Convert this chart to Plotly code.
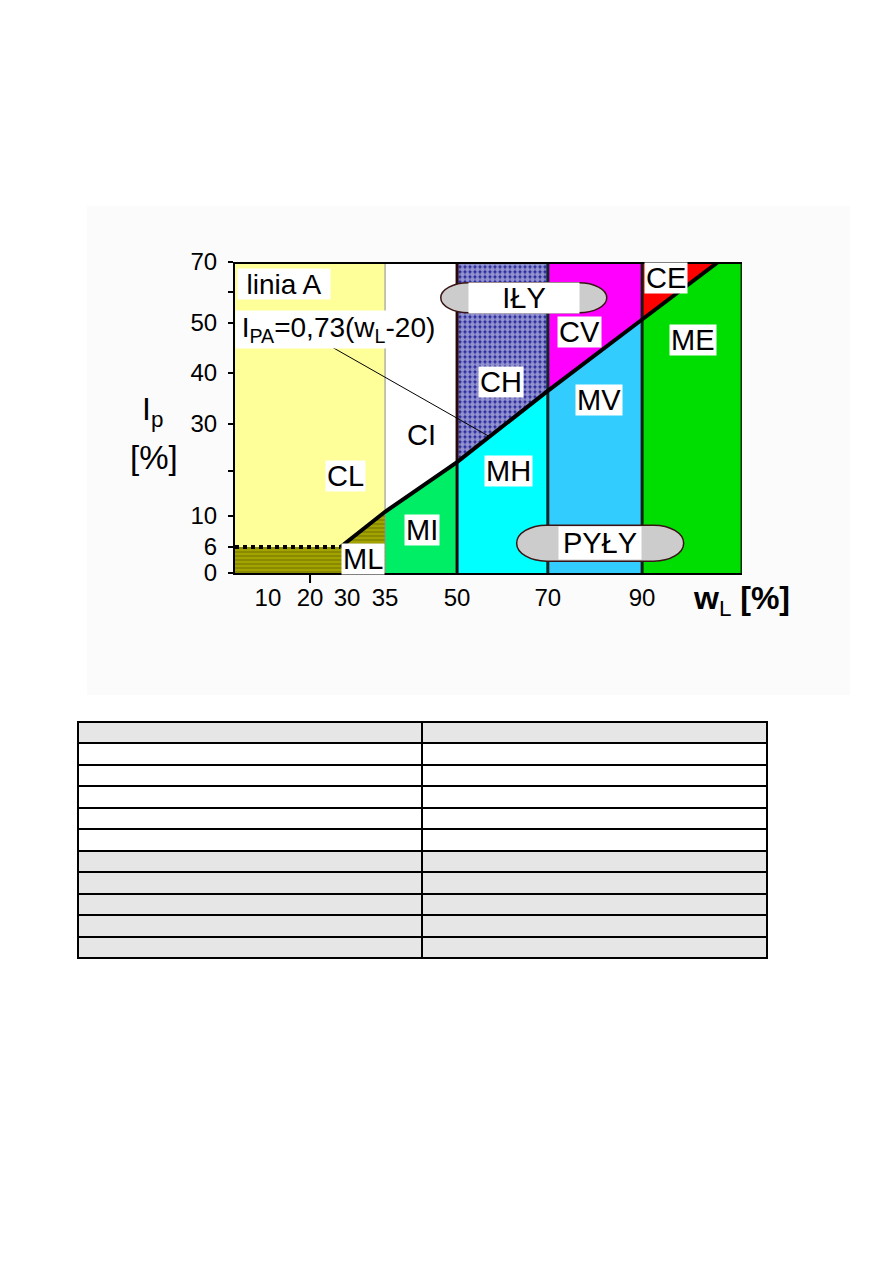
import numpy as np
import plotly.graph_objects as go

# ---------------- data ----------------
ZONE_BOUNDARIES_WL = [35, 50, 70, 90]      # liquid-limit class boundaries w_L [%]
A_LINE_SLOPE = 0.73                         # I_PA = 0,73 (w_L - 20)
A_LINE_WL0 = 20
IP_LOW = 6                                  # lower I_p limit (horizontal part)
IP_MAX = 70
WL_MIN, WL_MAX = 2, 124                     # visible extent of the w_L axis

X_TICK_LABELS = [10, 20, 30, 35, 50, 70, 90]
Y_TICK_VALUES = [0, 6, 10, 20, 30, 40, 50, 60, 70]
Y_TICK_TEXT = ["0", "6", "10", "", "30", "40", "50", "", "70"]

# the original drawing uses non-uniform axes: value -> fraction of the plot side
X_SCALE_VALUES = [2, 10, 20, 30, 35, 50, 70, 90, 124]
X_SCALE_FRACTION = [0.0, 0.065, 0.148, 0.221, 0.296, 0.438, 0.617, 0.803, 1.0]
Y_SCALE_VALUES = [0, 6, 10, 20, 30, 40, 50, 60, 70]
Y_SCALE_FRACTION = [0.0, 0.0836, 0.183, 0.328, 0.479, 0.643, 0.804, 0.904, 1.0]

ZONE_NAMES = ["CL", "ML", "CI", "MI", "CH", "MH", "CV", "MV", "CE", "ME"]
ZONE_LABEL_WL = [29.5, 32.1, 42.5, 42.7, 59.7, 61.4, 76.8, 80.9, 98.2, 107.4]
ZONE_LABEL_IP = [18.9, 3.2, 27.7, 8.2, 38.2, 20.0, 48.2, 34.7, 64.7, 46.6]

GROUP_NAMES = ["IŁY", "PYŁY"]
GROUP_WL = [64.7, 81.1]
GROUP_IP = [58.1, 6.5]

LINE_LABEL_TEXT = ["linia A", "I<sub>PA</sub>=0,73(w<sub>L</sub>-20)"]
LINE_LABEL_WL = [13.8, 27.6]
LINE_LABEL_IP = [62.7, 48.6]
LEADER_WL = [25.9, 57.3]                    # leader from formula to line A
LEADER_IP = [45.2]

TABLE_ROW_SHADED = [True, False, False, False, False, False, True, True, True, True, True]

# ---------------- helpers ----------------
FONT = "Liberation Sans, Arial, sans-serif"
PAGE_MARGIN = 8                 # default body margin of the html page
W, H = 893 - 2 * PAGE_MARGIN, 1263 - 2 * PAGE_MARGIN


def PX(px):  # page pixel -> paper x
    return (px - PAGE_MARGIN) / W


def PY(py):  # page pixel -> paper y
    return 1 - (py - PAGE_MARGIN) / H


def fx(v):
    return np.interp(np.asarray(v, float), X_SCALE_VALUES, X_SCALE_FRACTION)


def fy(v):
    return np.interp(np.asarray(v, float), Y_SCALE_VALUES, Y_SCALE_FRACTION)


def a_line(w):
    return A_LINE_SLOPE * (np.asarray(w, float) - A_LINE_WL0)


b35, b50, b70, b90 = ZONE_BOUNDARIES_WL
w6 = A_LINE_WL0 + IP_LOW / A_LINE_SLOPE
w70 = A_LINE_WL0 + IP_MAX / A_LINE_SLOPE
A = {w: float(a_line(w)) for w in ZONE_BOUNDARIES_WL}

fig = go.Figure()


def zone(poly, color, pattern=None):
    w, ip = zip(*poly)
    tr = go.Scatter(x=fx(w), y=fy(ip), fill="toself", fillcolor=color, mode="lines",
                    line=dict(width=0), hoverinfo="skip", showlegend=False)
    if pattern:
        tr.fillpattern = pattern
    fig.add_trace(tr)


zone([(WL_MIN, IP_LOW), (w6, IP_LOW), (b35, A[b35]), (b35, IP_MAX), (WL_MIN, IP_MAX)], "#ffff99")
zone([(WL_MIN, 0), (b35, 0), (b35, A[b35]), (w6, IP_LOW), (WL_MIN, IP_LOW)], "#a0a000",
     dict(shape="-", bgcolor="#a3a300", fgcolor="#6c6c00", size=4, solidity=0.45))
zone([(b35, A[b35]), (b50, A[b50]), (b50, IP_MAX), (b35, IP_MAX)], "#ffffff")
zone([(b35, 0), (b50, 0), (b50, A[b50]), (b35, A[b35])], "#00ee66")
zone([(b50, A[b50]), (b70, A[b70]), (b70, IP_MAX), (b50, IP_MAX)], "#22229c",
     dict(shape=".", bgcolor="#22229c", fgcolor="#ffffff", size=5, solidity=0.72))
zone([(b50, 0), (b70, 0), (b70, A[b70]), (b50, A[b50])], "#00ffff")
zone([(b70, A[b70]), (b90, A[b90]), (b90, IP_MAX), (b70, IP_MAX)], "#ff00ff")
zone([(b70, 0), (b90, 0), (b90, A[b90]), (b70, A[b70])], "#33ccff")
zone([(b90, A[b90]), (w70, IP_MAX), (b90, IP_MAX)], "#ff0000")
zone([(b90, 0), (WL_MAX, 0), (WL_MAX, IP_MAX), (w70, IP_MAX), (b90, A[b90])], "#00dd00")


def line(w, ip, color, width, dash="solid"):
    fig.add_trace(go.Scatter(x=fx(w), y=fy(ip), mode="lines", cliponaxis=False,
                             line=dict(color=color, width=width, dash=dash),
                             hoverinfo="skip", showlegend=False))


# zone boundaries
line([b35, b35], [0, IP_MAX], "#8a8a8a", 1)
line([b50, b50], [0, IP_MAX], "#2a0808", 3)
line([b70, b70], [0, IP_MAX], "#0e2626", 3)
line([b90, b90], [0, IP_MAX], "#102010", 3)
line([WL_MAX, WL_MAX], [0, IP_MAX], "#0a300a", 3)
line([WL_MIN, WL_MAX], [IP_MAX, IP_MAX], "#000000", 4)

# horizontal I_p = 6 and line A
line([WL_MIN, w6], [IP_LOW, IP_LOW], "#000000", 4, "dot")
aw = [w6] + ZONE_BOUNDARIES_WL + [w70]
line(aw, [IP_LOW] + [A[w] for w in ZONE_BOUNDARIES_WL] + [IP_MAX], "#000000", 4)

# leader from formula to line A
line(LEADER_WL, [LEADER_IP[0], float(a_line(LEADER_WL[1]))], "#000000", 1)

# x tick mark at 20
x_bottom = PY(573)
fig.add_shape(type="line", xref="x", yref="paper", x0=fx(20), x1=fx(20),
              y0=x_bottom, y1=x_bottom - 10 / H, line=dict(color="black", width=2))


# pills for IŁY / PYŁY
def pill_path(w, h, rx):
    a, ry, k = w / 2 - rx, h / 2, 0.5523
    return (f"M {-a},{-ry} L {a},{-ry} "
            f"C {a + k * rx},{-ry} {a + rx},{-k * ry} {a + rx},0 "
            f"C {a + rx},{k * ry} {a + k * rx},{ry} {a},{ry} "
            f"L {-a},{ry} "
            f"C {-a - k * rx},{ry} {-a - rx},{k * ry} {-a - rx},0 "
            f"C {-a - rx},{-k * ry} {-a - k * rx},{-ry} {-a},{-ry} Z")


PILL_SIZE = [(166, 30, 28), (167, 36, 30)]
PILL_TEXTBOX = [(108, 28), (80, 30)]
for name, w, ip, (pw, ph, prx), (tw, th) in zip(GROUP_NAMES, GROUP_WL, GROUP_IP, PILL_SIZE, PILL_TEXTBOX):
    fig.add_shape(type="path", xref="x", yref="y", xsizemode="pixel", ysizemode="pixel",
                  xanchor=float(fx(w)), yanchor=float(fy(ip)), path=pill_path(pw, ph, prx),
                  fillcolor="#cccccc", line=dict(color="#3a1414", width=1.5), layer="above")
    fig.add_annotation(x=float(fx(w)), y=float(fy(ip)), xref="x", yref="y", text=name,
                       showarrow=False, bgcolor="white", width=tw, height=th,
                       xanchor="center", yanchor="middle",
                       font=dict(family=FONT, size=29, color="black"))

# zone labels
for name, w, ip in zip(ZONE_NAMES, ZONE_LABEL_WL, ZONE_LABEL_IP):
    fig.add_annotation(x=float(fx(w)), y=float(fy(ip)), xref="x", yref="y", text=name,
                       showarrow=False, bgcolor="white", height=28, borderpad=1,
                       xanchor="center", yanchor="middle",
                       font=dict(family=FONT, size=29, color="black"))

# line-A labels
LINE_LABEL_BOX = [(90, 28), (203, 35)]
for t, w, ip, (bw, bh) in zip(LINE_LABEL_TEXT, LINE_LABEL_WL, LINE_LABEL_IP, LINE_LABEL_BOX):
    fig.add_annotation(x=float(fx(w)), y=float(fy(ip)), xref="x", yref="y", text=t,
                       showarrow=False, bgcolor="white", width=bw, height=bh,
                       xanchor="center", yanchor="middle",
                       font=dict(family=FONT, size=28, color="black"))

# axis titles
fig.add_annotation(x=PX(152), y=PY(412), xref="paper", yref="paper",
                   text="I<sub>p</sub>", showarrow=False, xanchor="center", yanchor="middle",
                   font=dict(family=FONT, size=32, color="black"))
fig.add_annotation(x=PX(154), y=PY(457), xref="paper", yref="paper",
                   text="[%]", showarrow=False, xanchor="center", yanchor="middle",
                   font=dict(family=FONT, size=33, color="black"))
fig.add_annotation(x=PX(741), y=PY(600), xref="paper", yref="paper",
                   text="<b>w</b><sub>L</sub> <b>[%]</b>", showarrow=False,
                   xanchor="center", yanchor="middle",
                   font=dict(family=FONT, size=32, color="black"))

# faint background of the scanned figure
fig.add_shape(type="rect", xref="paper", yref="paper", x0=PX(87), x1=PX(850),
              y0=PY(695), y1=PY(206), fillcolor="#fbfbfb", line=dict(width=0),
              layer="below")

# empty table below the chart
GRAY = "#e6e6e6"
row_fill = [GRAY if s else "white" for s in TABLE_ROW_SHADED]
row_h = (958 - 722) / 11
fig.add_trace(go.Table(
    domain=dict(x=[PX(78), PX(767)], y=[PY(962), PY(722)]),
    columnwidth=[344, 345],
    header=dict(values=["", ""], fill_color=row_fill[0], height=row_h,
                line=dict(color="black", width=2)),
    cells=dict(values=[[""] * 10, [""] * 10], fill_color=[row_fill[1:], row_fill[1:]],
               height=row_h, line=dict(color="black", width=2)),
))

fig.update_layout(
    width=W, height=H, autosize=False, margin=dict(l=0, r=0, t=0, b=0, autoexpand=False),
    paper_bgcolor="white", plot_bgcolor="white", showlegend=False,
    xaxis=dict(domain=[PX(235), PX(742)], range=[0, 1], showgrid=False, zeroline=False,
               showline=True, linecolor="black", linewidth=2, automargin=False,
               tickvals=fx(X_TICK_LABELS), ticktext=[str(v) for v in X_TICK_LABELS],
               ticks="outside", ticklen=2, tickcolor="rgba(0,0,0,0)",
               tickfont=dict(family=FONT, size=24, color="black"), fixedrange=True),
    yaxis=dict(domain=[PY(573), PY(262)], range=[0, 1], showgrid=False, zeroline=False,
               showline=True, linecolor="black", linewidth=2, automargin=False,
               tickvals=fy(Y_TICK_VALUES), ticktext=Y_TICK_TEXT,
               ticks="outside", ticklen=5, tickwidth=2, tickcolor="black",
               ticklabelstandoff=6,
               tickfont=dict(family=FONT, size=24, color="black"), fixedrange=True),
)

fig.write_html("out.html")
